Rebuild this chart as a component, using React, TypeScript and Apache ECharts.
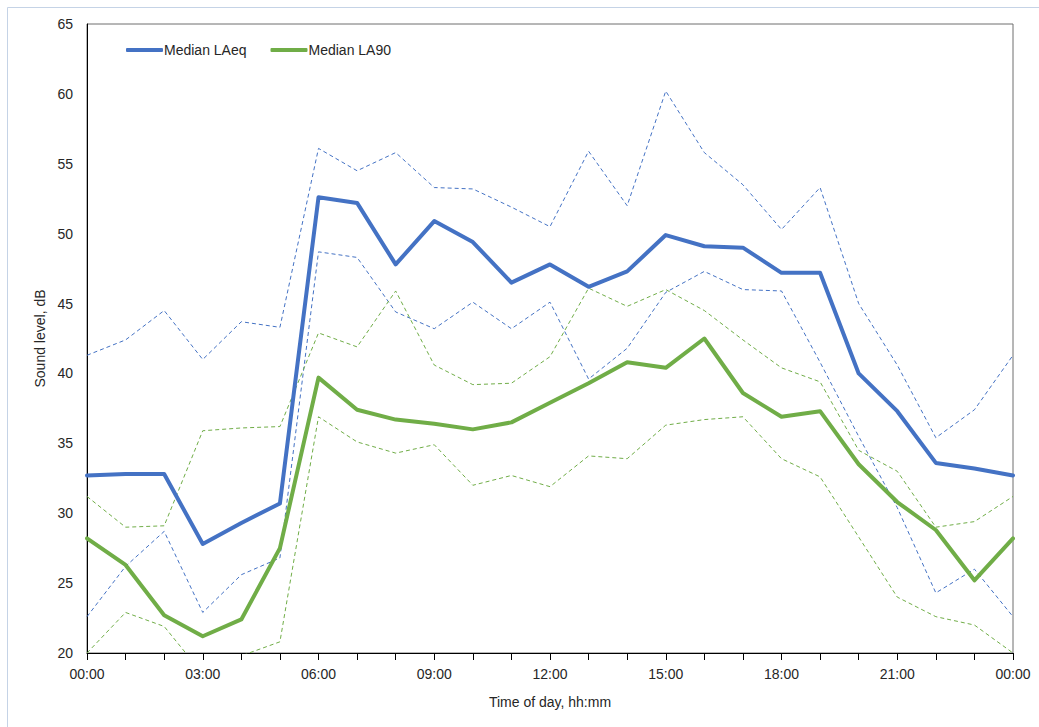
import React, { useEffect, useRef } from "react";
import * as echarts from "echarts";

const hours = [
  "00:00", "01:00", "02:00", "03:00", "04:00", "05:00", "06:00", "07:00", "08:00",
  "09:00", "10:00", "11:00", "12:00", "13:00", "14:00", "15:00", "16:00", "17:00",
  "18:00", "19:00", "20:00", "21:00", "22:00", "23:00", "00:00",
];

const laeqMedian = [32.7, 32.8, 32.8, 27.8, 29.3, 30.7, 52.6, 52.2, 47.8, 50.9, 49.4, 46.5, 47.8, 46.2, 47.3, 49.9, 49.1, 49.0, 47.2, 47.2, 40.0, 37.3, 33.6, 33.2, 32.7];
const laeqUpper = [41.3, 42.4, 44.5, 41.0, 43.7, 43.3, 56.1, 54.5, 55.8, 53.3, 53.2, 51.9, 50.5, 55.9, 52.0, 60.2, 55.8, 53.5, 50.3, 53.3, 45.0, 40.6, 35.4, 37.4, 41.3];
const laeqLower = [22.6, 26.2, 28.7, 22.9, 25.6, 26.8, 48.7, 48.3, 44.4, 43.2, 45.1, 43.2, 45.1, 39.6, 41.8, 45.8, 47.3, 46.0, 45.9, 40.8, 35.5, 30.4, 24.3, 26.0, 22.6];
const la90Median = [28.2, 26.3, 22.7, 21.2, 22.4, 27.5, 39.7, 37.4, 36.7, 36.4, 36.0, 36.5, 37.9, 39.3, 40.8, 40.4, 42.5, 38.6, 36.9, 37.3, 33.5, 30.8, 28.8, 25.2, 28.2];
const la90Upper = [31.2, 29.0, 29.1, 35.9, 36.1, 36.2, 42.9, 41.9, 45.9, 40.6, 39.2, 39.3, 41.2, 46.1, 44.8, 46.0, 44.5, 42.4, 40.4, 39.4, 34.5, 33.0, 29.0, 29.4, 31.2];
const la90Lower = [20.0, 22.9, 21.9, 18.5, 19.8, 20.8, 36.9, 35.1, 34.3, 34.9, 32.0, 32.7, 31.9, 34.1, 33.9, 36.3, 36.7, 36.9, 33.9, 32.6, 28.3, 24.0, 22.6, 22.0, 20.0];

const BLUE = "#4472C4";
const GREEN = "#70AD47";
const FONT = "'Liberation Sans', Arial, sans-serif";

export default function App() {
  const ref = useRef<HTMLDivElement>(null);

  useEffect(() => {
    if (!ref.current) return;
    const chart = echarts.init(ref.current, null, { renderer: "svg" });

    const dashed = (name: string, data: number[], color: string) => ({
      name,
      type: "line",
      data,
      symbol: "none",
      lineStyle: { color, width: 1, type: [4, 3] },
      itemStyle: { color },
      z: 2,
    });

    chart.setOption({
      animation: false,
      backgroundColor: "#ffffff",
      textStyle: { fontFamily: FONT },
      graphic: [
        {
          type: "rect",
          shape: { x: 7.5, y: 7.5, width: 1100, height: 800 },
          style: { fill: "none", stroke: "#c5d3e6", lineWidth: 1 },
          silent: true,
        },
      ],
      grid: {
        left: 87,
        top: 24,
        width: 926,
        height: 629,
        show: true,
        borderColor: "#6f6f6f",
        borderWidth: 1,
        containLabel: false,
      },
      legend: {
        left: 121,
        top: 38,
        data: [
          { name: "Median LAeq", icon: "roundRect" },
          { name: "Median LA90", icon: "roundRect" },
        ],
        itemWidth: 37,
        itemHeight: 4,
        itemGap: 24,
        textStyle: { fontFamily: FONT, fontSize: 14, color: "#262626", padding: [0, 0, 0, -4] },
      },
      xAxis: {
        type: "category",
        data: hours,
        boundaryGap: false,
        name: "Time of day, hh:mm",
        nameLocation: "middle",
        nameGap: 42,
        nameTextStyle: { fontFamily: FONT, fontSize: 14, color: "#262626" },
        axisLine: { show: true, lineStyle: { color: "#000000", width: 1 } },
        axisTick: { show: true, interval: 0, length: 7, lineStyle: { color: "#000000" } },
        axisLabel: { interval: 2, margin: 14, fontFamily: FONT, fontSize: 14, color: "#262626" },
        splitLine: { show: false },
      },
      yAxis: {
        type: "value",
        min: 20,
        max: 65,
        interval: 5,
        name: "Sound level, dB",
        nameLocation: "middle",
        nameGap: 36,
        nameTextStyle: { fontFamily: FONT, fontSize: 14, color: "#262626" },
        axisLine: { show: true, lineStyle: { color: "#000000", width: 1 } },
        axisTick: { show: false },
        axisLabel: { margin: 14, fontFamily: FONT, fontSize: 14, color: "#262626" },
        splitLine: { show: false },
      },
      series: [
        dashed("LAeq upper", laeqUpper, BLUE),
        dashed("LAeq lower", laeqLower, BLUE),
        dashed("LA90 upper", la90Upper, GREEN),
        dashed("LA90 lower", la90Lower, GREEN),
        {
          name: "Median LAeq",
          type: "line",
          data: laeqMedian,
          symbol: "none",
          lineStyle: { color: BLUE, width: 4, cap: "round", join: "round" },
          itemStyle: { color: BLUE },
          z: 4,
        },
        {
          name: "Median LA90",
          type: "line",
          data: la90Median,
          symbol: "none",
          lineStyle: { color: GREEN, width: 4, cap: "round", join: "round" },
          itemStyle: { color: GREEN },
          z: 3,
        },
      ],
    });

    return () => chart.dispose();
  }, []);

  return (
    <div
      ref={ref}
      style={{ position: "absolute", left: 0, top: 0, width: 1039, height: 727 }}
    />
  );
}
